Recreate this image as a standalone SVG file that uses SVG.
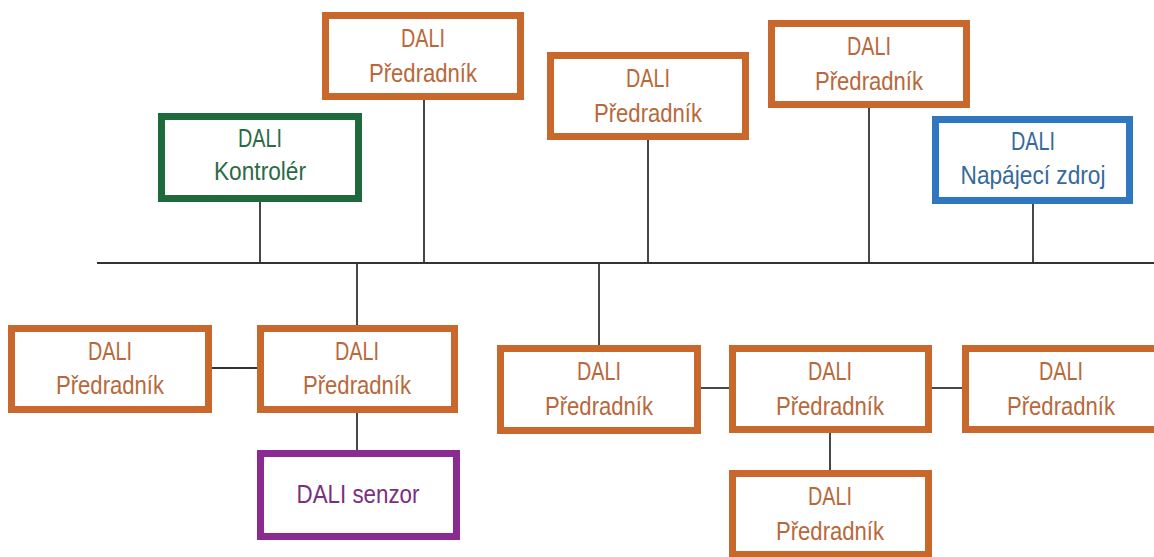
<svg xmlns="http://www.w3.org/2000/svg" width="1154" height="557" viewBox="0 0 1154 557">
  <style>
    .box { fill: #ffffff; stroke-width: 7; }
    .ballast { stroke: #c8682c; }
    .ctrl { stroke: #1f6a3c; }
    .psu { stroke: #2f78bf; }
    .sensor { stroke: #8b2a91; }
    .lbl { font-family: "Liberation Sans Narrow", "Liberation Sans", Arial, sans-serif; font-size: 26px; text-anchor: middle; }
    .t-ballast { fill: #b8683a; }
    .t-ctrl { fill: #2b6b43; }
    .t-psu { fill: #36699c; }
    .t-sensor { fill: #7a2f80; }
    .wire { stroke: #333333; stroke-width: 1.8; fill: none; }
  </style>

  <!-- bus and branch wiring -->
  <g id="connectors">
    <line class="wire" x1="97" y1="263" x2="1154" y2="263"/>
    <line class="wire" x1="260" y1="202" x2="260" y2="263"/>
    <line class="wire" x1="424" y1="99" x2="424" y2="263"/>
    <line class="wire" x1="648" y1="140" x2="648" y2="263"/>
    <line class="wire" x1="869" y1="108" x2="869" y2="263"/>
    <line class="wire" x1="1033" y1="203" x2="1033" y2="263"/>
    <line class="wire" x1="357" y1="263" x2="357" y2="325"/>
    <line class="wire" x1="599" y1="263" x2="599" y2="345"/>
    <line class="wire" x1="211" y1="368" x2="257" y2="368"/>
    <line class="wire" x1="357" y1="412" x2="357" y2="450"/>
    <line class="wire" x1="700" y1="388" x2="730" y2="388"/>
    <line class="wire" x1="931" y1="388" x2="963" y2="388"/>
    <line class="wire" x1="830" y1="433" x2="830" y2="470"/>
  </g>

  <g id="controller">
    <rect class="box ctrl" x="161.5" y="116.5" width="197" height="82"/>
    <text class="lbl t-ctrl" x="260" y="147" textLength="44" lengthAdjust="spacingAndGlyphs">DALI</text>
    <text class="lbl t-ctrl" x="260" y="180" textLength="92" lengthAdjust="spacingAndGlyphs">Kontrolér</text>
  </g>

  <g id="ballast-top-1">
    <rect class="box ballast" x="325.5" y="15.5" width="195" height="81"/>
    <text class="lbl t-ballast" x="423" y="47" textLength="44" lengthAdjust="spacingAndGlyphs">DALI</text>
    <text class="lbl t-ballast" x="423" y="82" textLength="108" lengthAdjust="spacingAndGlyphs">Předradník</text>
  </g>

  <g id="ballast-top-2">
    <rect class="box ballast" x="550.5" y="55.5" width="195" height="81"/>
    <text class="lbl t-ballast" x="648" y="87" textLength="44" lengthAdjust="spacingAndGlyphs">DALI</text>
    <text class="lbl t-ballast" x="648" y="122" textLength="108" lengthAdjust="spacingAndGlyphs">Předradník</text>
  </g>

  <g id="ballast-top-3">
    <rect class="box ballast" x="771.5" y="23.5" width="195" height="81"/>
    <text class="lbl t-ballast" x="869" y="55" textLength="44" lengthAdjust="spacingAndGlyphs">DALI</text>
    <text class="lbl t-ballast" x="869" y="90" textLength="108" lengthAdjust="spacingAndGlyphs">Předradník</text>
  </g>

  <g id="power-supply">
    <rect class="box psu" x="935.5" y="119.5" width="194" height="81"/>
    <text class="lbl t-psu" x="1033" y="150" textLength="44" lengthAdjust="spacingAndGlyphs">DALI</text>
    <text class="lbl t-psu" x="1033" y="184" textLength="145" lengthAdjust="spacingAndGlyphs">Napájecí zdroj</text>
  </g>

  <g id="ballast-left">
    <rect class="box ballast" x="11.5" y="328.5" width="197" height="81"/>
    <text class="lbl t-ballast" x="110" y="360" textLength="44" lengthAdjust="spacingAndGlyphs">DALI</text>
    <text class="lbl t-ballast" x="110" y="394" textLength="108" lengthAdjust="spacingAndGlyphs">Předradník</text>
  </g>

  <g id="ballast-mid-left">
    <rect class="box ballast" x="260.5" y="328.5" width="194" height="81"/>
    <text class="lbl t-ballast" x="357" y="360" textLength="44" lengthAdjust="spacingAndGlyphs">DALI</text>
    <text class="lbl t-ballast" x="357" y="394" textLength="108" lengthAdjust="spacingAndGlyphs">Předradník</text>
  </g>

  <g id="sensor">
    <rect class="box sensor" x="260.5" y="453.5" width="196" height="83"/>
    <text class="lbl t-sensor" x="358" y="503" textLength="123" lengthAdjust="spacingAndGlyphs">DALI senzor</text>
  </g>

  <g id="ballast-center">
    <rect class="box ballast" x="500.5" y="348.5" width="197" height="82"/>
    <text class="lbl t-ballast" x="599" y="380" textLength="44" lengthAdjust="spacingAndGlyphs">DALI</text>
    <text class="lbl t-ballast" x="599" y="415" textLength="108" lengthAdjust="spacingAndGlyphs">Předradník</text>
  </g>

  <g id="ballast-center-right">
    <rect class="box ballast" x="732.5" y="348.5" width="196" height="81"/>
    <text class="lbl t-ballast" x="830" y="380" textLength="44" lengthAdjust="spacingAndGlyphs">DALI</text>
    <text class="lbl t-ballast" x="830" y="415" textLength="108" lengthAdjust="spacingAndGlyphs">Předradník</text>
  </g>

  <g id="ballast-right">
    <rect class="box ballast" x="965.5" y="348.5" width="196" height="81"/>
    <text class="lbl t-ballast" x="1061" y="380" textLength="44" lengthAdjust="spacingAndGlyphs">DALI</text>
    <text class="lbl t-ballast" x="1061" y="415" textLength="108" lengthAdjust="spacingAndGlyphs">Předradník</text>
  </g>

  <g id="ballast-bottom">
    <rect class="box ballast" x="732.5" y="473.5" width="196" height="81"/>
    <text class="lbl t-ballast" x="830" y="505" textLength="44" lengthAdjust="spacingAndGlyphs">DALI</text>
    <text class="lbl t-ballast" x="830" y="540" textLength="108" lengthAdjust="spacingAndGlyphs">Předradník</text>
  </g>
</svg>
